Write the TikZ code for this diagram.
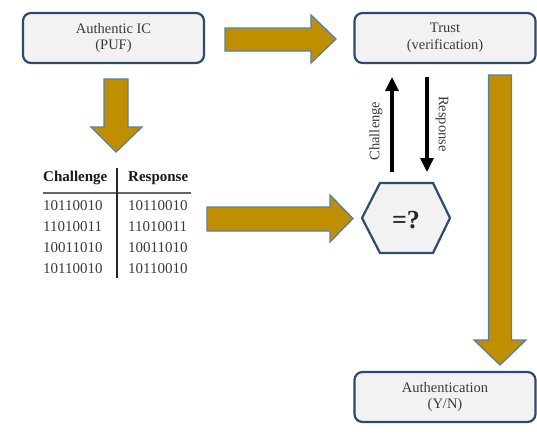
\documentclass[tikz,border=0pt]{standalone}
\usepackage{fontspec}
\setmainfont{Liberation Serif}
\usetikzlibrary{arrows.meta}
\definecolor{gold}{HTML}{BF8F00}
\definecolor{arrowedge}{HTML}{5A7FA3}
\definecolor{boxedge}{HTML}{2E4A6E}
\definecolor{boxfill}{HTML}{F2F2F2}
\definecolor{txt}{HTML}{3A3A3A}
\begin{document}
\begin{tikzpicture}[x=1pt,y=-1pt,
  infobox/.style={draw=boxedge,line width=2.2pt,fill=boxfill,rounded corners=8pt,
     minimum width=181pt,minimum height=50pt,align=center,text=txt,
     font=\fontsize{14.5}{16.5}\selectfont},
  blockarrow/.style={fill=gold,draw=arrowedge,line width=1.3pt,line join=miter},
  thinarrow/.style={line width=3.2pt,-{Triangle[length=14pt,width=13pt]}},
  cell/.style={font=\fontsize{15}{17}\selectfont,text=txt,inner sep=0pt},
  head/.style={font=\bfseries\fontsize{15}{17}\selectfont,text=black!90,inner sep=0pt}]
\useasboundingbox (0,0) rectangle (537,434);
% boxes
\node[infobox] (ic) at (113.5,38) {Authentic IC\\(PUF)};
\node[infobox] (trust) at (445,38) {Trust\\(verification)};
\node[infobox] (auth) at (445,397) {Authentication\\(Y/N)};
% hexagon
\draw[boxedge,line width=2.2pt,fill=boxfill] (362,218) -- (380,183) -- (433,183) -- (450,218) -- (433,253) -- (380,253) -- cycle;
\node[font=\bfseries\fontsize{26}{26}\selectfont,text=black!85] (cmp) at (406,220) {=?};
% block arrows
\draw[blockarrow] (104,79) -- (128,79) -- (128,127) -- (142,127) -- (116,152) -- (91,127) -- (104,127) -- cycle;
\draw[blockarrow] (225,28) -- (311,28) -- (311,15) -- (336,39) -- (311,63) -- (311,51) -- (225,51) -- cycle;
\draw[blockarrow] (207,207) -- (330,207) -- (330,195) -- (353,218.5) -- (330,242) -- (330,231) -- (207,231) -- cycle;
\draw[blockarrow] (488.5,75) -- (511.5,75) -- (511.5,340) -- (526,340) -- (500,365) -- (474,340) -- (488.5,340) -- cycle;
% challenge / response
\coordinate (cb) at (392,172);
\coordinate (ct) at (392,77);
\coordinate (rt) at (427,77);
\coordinate (rb) at (427,172);
\draw[thinarrow] (cb) -- (ct);
\draw[thinarrow] (rt) -- (rb);
\node[rotate=90,font=\fontsize{14.5}{16}\selectfont,text=txt] (chl) at (376,131) {Challenge};
\node[rotate=-90,font=\fontsize{14.5}{16}\selectfont,text=txt] (rsl) at (442,124) {Response};
% table
\node[head,anchor=base west] (h1) at (43,181) {Challenge};
\node[head,anchor=base west] (h2) at (128,181) {Response};
\draw[black!60,line width=1.8pt] (43,193) -- (191,193);
\draw[black!85,line width=1.3pt] (117,168) -- (117,278);
\foreach \y/\a/\b in {210/10110010/10110010,231/11010011/11010011,252/10011010/10011010,273/10110010/10110010}{
  \node[cell,anchor=base west] at (43,\y) {\a};
  \node[cell,anchor=base west] at (128,\y) {\b};
}
\end{tikzpicture}
\end{document}
